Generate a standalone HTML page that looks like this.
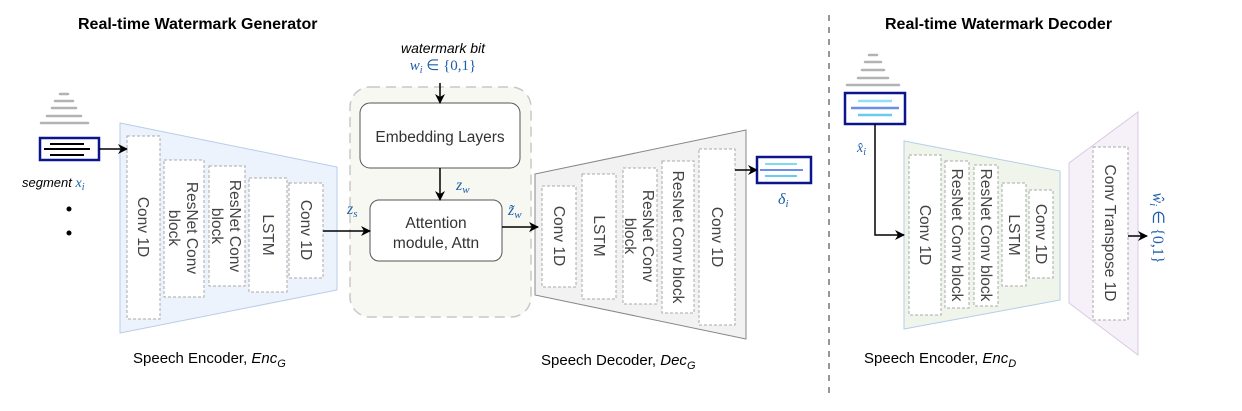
<!DOCTYPE html>
<html><head><meta charset="utf-8"><style>
html,body{margin:0;padding:0;background:#fff;}
svg{display:block;font-family:"Liberation Sans",sans-serif;}
.bx{fill:#fff;stroke:#aaa;stroke-width:1;stroke-dasharray:3,2;}
.lb{font-size:15.5px;fill:#444;}
.bl{fill:#1f5fa8;font-family:"Liberation Serif",serif;font-style:italic;}
.ar{stroke:#000;stroke-width:1.5;fill:none;}
</style></head><body>
<svg width="1242" height="411" viewBox="0 0 1242 411">
<defs><marker id="a" markerWidth="10" markerHeight="10" refX="9" refY="5" orient="auto" markerUnits="userSpaceOnUse"><path d="M0,0 L10,5 L0,10 L3,5 z" fill="#000"/></marker></defs>

<text x="78" y="29" font-size="16" font-weight="bold">Real-time Watermark Generator</text>
<text x="885" y="29" font-size="16" font-weight="bold">Real-time Watermark Decoder</text>
<line x1="829" y1="15" x2="829" y2="395" stroke="#777" stroke-width="1.5" stroke-dasharray="6,6"/>

<!-- input -->
<g stroke="#b3b3b3" stroke-width="2.5" stroke-linecap="round">
<line x1="60" y1="94" x2="68" y2="94"/><line x1="55" y1="101" x2="73" y2="101"/><line x1="52" y1="108" x2="76" y2="108"/><line x1="47" y1="116" x2="81" y2="116"/><line x1="41" y1="123" x2="88" y2="123"/></g>
<rect x="40" y="138" width="59" height="22" fill="#fff" stroke="#0c168c" stroke-width="2.5"/>
<g stroke="#000" stroke-width="2"><line x1="50" y1="144" x2="84" y2="144"/><line x1="44" y1="149" x2="90" y2="149"/><line x1="50" y1="155" x2="84" y2="155"/></g>
<text x="22" y="187" font-size="13" font-style="italic">segment <tspan class="bl" font-size="14">x</tspan><tspan class="bl" font-size="10" dy="3">i</tspan></text>
<circle cx="69" cy="209" r="2.5"/><circle cx="69" cy="233" r="2.5"/>

<!-- Encoder G -->
<polygon points="120,123 337,167 337,290 120,333" fill="#edf3fc" stroke="#b7cde8"/>
<rect class="bx" x="127" y="136" width="33" height="183"/>
<rect class="bx" x="164" y="160" width="40" height="137"/>
<rect class="bx" x="209" y="166" width="36" height="120"/>
<rect class="bx" x="249" y="178" width="38" height="114"/>
<rect class="bx" x="289" y="183" width="34" height="95"/>
<g class="lb">
<text transform="translate(143,227) rotate(90)" text-anchor="middle" dy="5">Conv 1D</text>
<text transform="translate(184,228) rotate(90)" text-anchor="middle"><tspan x="0" dy="-3">ResNet Conv</tspan><tspan x="0" dy="18">block</tspan></text>
<text transform="translate(227,226) rotate(90)" text-anchor="middle"><tspan x="0" dy="-3">ResNet Conv</tspan><tspan x="0" dy="18">block</tspan></text>
<text transform="translate(268,235) rotate(90)" text-anchor="middle" dy="5">LSTM</text>
<text transform="translate(306,230) rotate(90)" text-anchor="middle" dy="5">Conv 1D</text>
</g>
<text x="133" y="363" font-size="15">Speech Encoder, <tspan font-style="italic">Enc</tspan><tspan font-style="italic" font-size="11" dy="4">G</tspan></text>

<!-- middle -->
<rect x="350" y="87" width="181" height="230" rx="20" fill="#f8f8f3" stroke="#c8c8c8" stroke-width="1.5" stroke-dasharray="10,6"/>
<text x="443" y="53" text-anchor="middle" font-size="14" font-style="italic">watermark bit</text>
<text x="443" y="70" text-anchor="middle" class="bl" font-size="15">w<tspan font-size="10" dy="3">i</tspan><tspan dy="-3" font-style="normal"> ∈ {0,1}</tspan></text>
<rect x="360" y="103" width="160" height="65" rx="10" fill="#fff" stroke="#555"/>
<text x="440" y="142" text-anchor="middle" font-size="15.5" fill="#333">Embedding Layers</text>
<text x="456" y="190" class="bl" font-size="16">z<tspan font-size="11" dy="3">w</tspan></text>
<rect x="370" y="200" width="132" height="61" rx="9" fill="#fff" stroke="#555"/>
<text x="436" y="228" text-anchor="middle" font-size="15.5" fill="#333">Attention</text>
<text x="436" y="248" text-anchor="middle" font-size="15.5" fill="#333">module, Attn</text>
<text x="508" y="215" class="bl" font-size="16">z̃<tspan font-size="11" dy="3">w</tspan></text>
<text x="347" y="214" class="bl" font-size="16">z<tspan font-size="11" dy="3">s</tspan></text>

<!-- Decoder G -->
<polygon points="535,174 746,130 746,339 535,295" fill="#f2f2f2" stroke="#888"/>
<rect class="bx" x="542" y="186" width="34" height="101"/>
<rect class="bx" x="582" y="174" width="34" height="125"/>
<rect class="bx" x="623" y="168" width="34" height="136"/>
<rect class="bx" x="662" y="161" width="32" height="152"/>
<rect class="bx" x="699" y="149" width="36" height="176"/>
<g class="lb">
<text transform="translate(559,236) rotate(90)" text-anchor="middle" dy="5">Conv 1D</text>
<text transform="translate(599,236) rotate(90)" text-anchor="middle" dy="5">LSTM</text>
<text transform="translate(640,236) rotate(90)" text-anchor="middle"><tspan x="0" dy="-3">ResNet Conv</tspan><tspan x="0" dy="18">block</tspan></text>
<text transform="translate(678,237) rotate(90)" text-anchor="middle" dy="5">ResNet Conv block</text>
<text transform="translate(717,237) rotate(90)" text-anchor="middle" dy="5">Conv 1D</text>
</g>
<text x="541" y="365" font-size="15">Speech Decoder, <tspan font-style="italic">Dec</tspan><tspan font-style="italic" font-size="11" dy="4">G</tspan></text>
<rect x="757" y="157" width="54" height="26" fill="#fff" stroke="#0c168c" stroke-width="2.5"/>
<g stroke-width="2"><line x1="765" y1="164" x2="797" y2="164" stroke="#7fd8f5"/><line x1="760" y1="170" x2="803" y2="170" stroke="#6b8fe8"/><line x1="765" y1="176" x2="797" y2="176" stroke="#6bcaf0"/></g>
<text x="778" y="204" class="bl" font-size="16">δ<tspan font-size="11" dy="3">i</tspan></text>

<!-- Decoder side -->
<g stroke="#b3b3b3" stroke-width="2.5" stroke-linecap="round">
<line x1="869" y1="55" x2="877" y2="55"/><line x1="865" y1="62" x2="881" y2="62"/><line x1="862" y1="70" x2="884" y2="70"/><line x1="858" y1="78" x2="888" y2="78"/><line x1="847" y1="85" x2="899" y2="85"/></g>
<rect x="845" y="93" width="60" height="31" fill="#fff" stroke="#0c168c" stroke-width="2.5"/>
<g stroke-width="2.5"><line x1="858" y1="101" x2="892" y2="101" stroke="#8fe0f8"/><line x1="851" y1="108" x2="899" y2="108" stroke="#6b8fe8"/><line x1="858" y1="115" x2="892" y2="115" stroke="#6bcaf0"/></g>
<text x="857" y="152" class="bl" font-size="14">x̂<tspan font-size="10" dy="3">i</tspan></text>

<polygon points="904,141 1060,171 1060,300 904,329" fill="#eff5ea" stroke="#b7cde8"/>
<rect class="bx" x="909" y="155" width="32" height="160"/>
<rect class="bx" x="945" y="161" width="24" height="147"/>
<rect class="bx" x="974" y="165" width="24" height="141"/>
<rect class="bx" x="1002" y="183" width="24" height="103"/>
<rect class="bx" x="1029" y="190" width="24" height="88"/>
<g class="lb">
<text transform="translate(925,235) rotate(90)" text-anchor="middle" dy="5">Conv 1D</text>
<text transform="translate(957,235) rotate(90)" text-anchor="middle" dy="5">ResNet Conv block</text>
<text transform="translate(986,235) rotate(90)" text-anchor="middle" dy="5">ResNet Conv block</text>
<text transform="translate(1014,235) rotate(90)" text-anchor="middle" dy="5">LSTM</text>
<text transform="translate(1041,234) rotate(90)" text-anchor="middle" dy="5">Conv 1D</text>
</g>
<text x="864" y="363" font-size="15">Speech Encoder, <tspan font-style="italic">Enc</tspan><tspan font-style="italic" font-size="11" dy="4">D</tspan></text>

<polygon points="1069,163 1138,112 1138,355 1069,303" fill="#f6f1f8" stroke="#d9c9e3"/>
<rect class="bx" x="1093" y="147" width="35" height="173"/>
<text transform="translate(1110,233) rotate(90)" text-anchor="middle" dy="5" class="lb">Conv Transpose 1D</text>
<text transform="translate(1155,228) rotate(90)" text-anchor="middle" class="bl" font-size="16" dy="2">ŵ<tspan font-size="11" dy="3">i</tspan><tspan dy="-3" font-style="normal"> ∈ {0,1}</tspan></text>

<!-- arrows on top -->
<line class="ar" x1="99" y1="149" x2="127" y2="149" marker-end="url(#a)"/>
<line class="ar" x1="323" y1="231" x2="370" y2="231" marker-end="url(#a)"/>
<line class="ar" x1="440" y1="83" x2="440" y2="103" marker-end="url(#a)"/>
<line class="ar" x1="440" y1="168" x2="440" y2="200" marker-end="url(#a)"/>
<line class="ar" x1="502" y1="227" x2="538" y2="227" marker-end="url(#a)"/>
<line class="ar" x1="735" y1="170" x2="757" y2="170" marker-end="url(#a)"/>
<polyline class="ar" points="875,124 875,235 904,235" marker-end="url(#a)"/>
<line class="ar" x1="1128" y1="236" x2="1147" y2="236" marker-end="url(#a)"/>
</svg>
</body></html>
